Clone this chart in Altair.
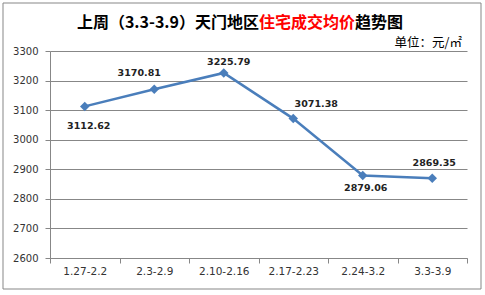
import altair as alt
import pandas as pd

weeks = ["1.27-2.2", "2.3-2.9", "2.10-2.16", "2.17-2.23", "2.24-3.2", "3.3-3.9"]
prices = [3112.62, 3170.81, 3225.79, 3071.38, 2879.06, 2869.35]
y_ticks = [2600, 2700, 2800, 2900, 3000, 3100, 3200, 3300]

title_left = "上周（3.3-3.9）天门地区"
title_red = "住宅成交均价"
title_right = "趋势图"
unit_text = "单位：元/㎡"

df = pd.DataFrame({"week": weeks, "price": prices})
df["label"] = [f"{p:.2f}" for p in prices]

W, H = 417, 207
GRAY = "#878787"
BLUE = "#4A7EBB"

x_enc = alt.X("week:N", sort=weeks,
              scale=alt.Scale(type="band", paddingInner=0, paddingOuter=0),
              axis=alt.Axis(title=None, labelAngle=0, tickBand="extent", tickSize=5,
                            tickColor=GRAY, domainColor=GRAY, labelColor="#333333",
                            labelFont="DejaVu Sans", labelFontSize=10.5, labelPadding=3,
                            grid=False))
y_enc = alt.Y("price:Q",
              scale=alt.Scale(domain=[2600, 3300], nice=False, zero=False),
              axis=alt.Axis(title=None, values=y_ticks, format="d", grid=True,
                            gridColor=GRAY, tickSize=5, tickColor=GRAY, domainColor=GRAY,
                            labelColor="#333333", labelFont="DejaVu Sans",
                            labelFontSize=10, labelPadding=7))

base = alt.Chart(df).encode(x=x_enc, y=y_enc)

line = base.mark_line(color=BLUE, strokeWidth=2.5)
pts = base.mark_point(shape="diamond", filled=True, color=BLUE, size=90, opacity=1)

# label offsets (styling, per point)
offsets = {
    "1.27-2.2": (4, 20),
    "2.3-2.9": (-15, -16),
    "2.10-2.16": (5, -11),
    "2.17-2.23": (23, -15),
    "2.24-3.2": (3, 13),
    "3.3-3.9": (2, -15),
}
label_layers = []
for w in weeks:
    dx, dy = offsets[w]
    label_layers.append(
        base.mark_text(font="DejaVu Sans", fontWeight="bold", fontSize=9.5,
                       color="#222222", dx=dx, dy=dy, baseline="middle")
        .encode(text="label:N")
        .transform_filter(alt.datum.week == w)
    )

def txt(s, x, y, align, color, size, weight):
    return alt.Chart(pd.DataFrame({"t": [s]})).mark_text(
        align=align, baseline="middle", color=color, fontSize=size,
        fontWeight=weight, font="Noto Sans CJK SC").encode(
        x=alt.value(x), y=alt.value(y), text="t:N")

t1 = txt(title_left, 209, -28, "right", "#000000", 16, "bold")
t2 = txt(title_red, 209, -28, "left", "#ff0000", 16, "bold")
t3 = txt(title_right, 305, -28, "left", "#000000", 16, "bold")
t4 = txt(unit_text, 412, -8, "right", "#000000", 12.5, "normal")

frame = alt.Chart(pd.DataFrame({"a": [0]})).mark_rect(
    fillOpacity=0, stroke=GRAY, strokeWidth=1).encode(
    x=alt.value(-47), x2=alt.value(431), y=alt.value(-48), y2=alt.value(238))

chart = alt.layer(line, pts, *label_layers, t1, t2, t3, t4, frame).properties(
    width=W, height=H,
    padding={"left": 50, "top": 51, "right": 18, "bottom": 37},
    autosize="none", background="white"
).configure_view(stroke=None)

chart.save("out.html", embed_options={"renderer": "svg", "actions": False})
